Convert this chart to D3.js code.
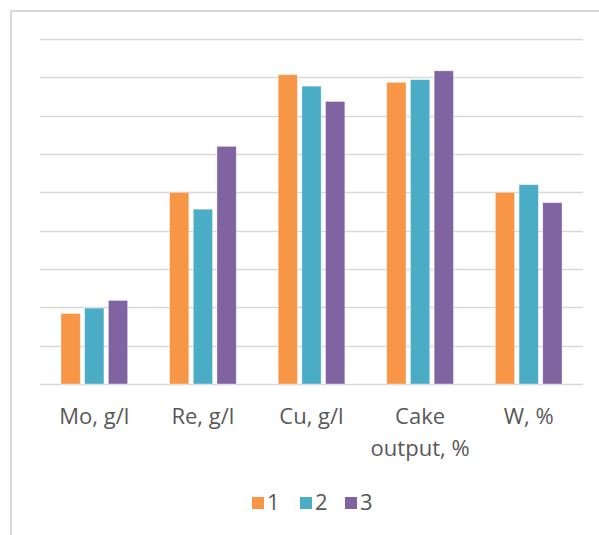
<!DOCTYPE html>
<html>
<head>
<meta charset="utf-8">
<script src="https://cdn.jsdelivr.net/npm/d3@7"></script>
<style>
  html, body { margin: 0; padding: 0; background: #fff; }
  svg { display: block; }
  text { font-family: "Open Sans", sans-serif; fill: #595959; }
</style>
</head>
<body>
<svg id="chart" width="599" height="535"></svg>
<script>
// categories and series (gridline step = 10)
var categories = ["Mo, g/l", "Re, g/l", "Cu, g/l", "Cake\noutput, %", "W, %"];
var seriesNames = ["1", "2", "3"];
var series1 = [18.4, 50.0, 80.7, 78.7, 50.0];
var series2 = [19.8, 45.6, 77.7, 79.4, 52.0];
var series3 = [21.8, 62.0, 73.7, 81.7, 47.3];
var yTicks = [0, 10, 20, 30, 40, 50, 60, 70, 80, 90];

var colors = ["#F79646", "#4BACC6", "#8064A2"];
var values = [series1, series2, series3];

var svg = d3.select("#chart");

// chart frame, runs off the right and bottom edge
svg.append("rect")
  .attr("x", 11).attr("y", 11)
  .attr("width", 620).attr("height", 560)
  .attr("fill", "none")
  .attr("stroke", "#d9d9d9")
  .attr("stroke-width", 2);

var x0 = d3.scaleBand().domain(categories).range([40, 583]);
var x1 = d3.scaleBand().domain(seriesNames).range([-33.35, 33.35]).paddingInner(0.186);
var y = d3.scaleLinear().domain([0, 90]).range([384, 39]);

// gridlines
svg.append("g").selectAll("line")
  .data(yTicks)
  .join("line")
    .attr("x1", 40).attr("x2", 583)
    .attr("y1", d => Math.round(y(d)) + 0.5)
    .attr("y2", d => Math.round(y(d)) + 0.5)
    .attr("stroke", "#d9d9d9")
    .attr("stroke-width", 1.3);

// bars
var groups = svg.append("g").selectAll("g")
  .data(categories)
  .join("g")
    .attr("transform", d => "translate(" + (x0(d) + x0.bandwidth() / 2) + ",0)");

groups.selectAll("rect")
  .data((d, i) => seriesNames.map((s, j) => ({ s: s, v: values[j][i], c: colors[j] })))
  .join("rect")
    .attr("x", d => x1(d.s))
    .attr("width", x1.bandwidth())
    .attr("y", d => y(d.v))
    .attr("height", d => y(0) - y(d.v))
    .attr("fill", d => d.c)
    .attr("stroke", "#fff")
    .attr("stroke-opacity", 0.5)
    .attr("stroke-width", 0.75);

// category labels
var labels = svg.append("g").selectAll("text")
  .data(categories)
  .join("text")
    .attr("text-anchor", "middle")
    .attr("font-size", 22)
    .attr("x", d => x0(d) + x0.bandwidth() / 2)
    .attr("y", 424);

labels.selectAll("tspan")
  .data(d => d.split("\n"))
  .join("tspan")
    .attr("x", function() { return d3.select(this.parentNode).attr("x"); })
    .attr("dy", (d, i) => i === 0 ? 0 : 31.5)
    .text(d => d);

// legend
var legendX = [252, 300, 345];
var legend = svg.append("g").selectAll("g")
  .data(seriesNames)
  .join("g")
    .attr("transform", (d, i) => "translate(" + legendX[i] + ",497)");

legend.append("rect")
  .attr("width", 12).attr("height", 12)
  .attr("fill", (d, i) => colors[i]);

legend.append("text")
  .attr("x", 15)
  .attr("y", 13)
  .attr("font-size", 22)
  .text(d => d);
</script>
</body>
</html>
